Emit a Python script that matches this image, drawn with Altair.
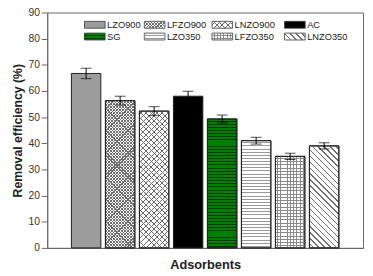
import math
import altair as alt
import pandas as pd

# ---------------- data ----------------
names = ["LZO900", "LFZO900", "LNZO900", "AC", "SG", "LZO350", "LFZO350", "LNZO350"]
values = [66.7, 56.3, 52.3, 58.0, 49.3, 41.0, 35.0, 39.0]
errors = [2.0, 1.7, 1.7, 1.9, 1.5, 1.3, 1.2, 1.2]
y_ticks = [0, 10, 20, 30, 40, 50, 60, 70, 80, 90]

df = pd.DataFrame({
    "name": names,
    "pos": list(range(1, len(names) + 1)),
    "value": values,
    "lo": [v - e for v, e in zip(values, errors)],
    "hi": [v + e for v, e in zip(values, errors)],
})

# ---------------- style ----------------
FONT = "Liberation Sans"
PW, PH = 322, 240          # plot area
YMAX = 90
BAR_W = 30
SW_W, SW_H = 21, 7          # legend swatch
TRANSP = "rgba(255,255,255,0)"

# pattern spec: (base fill, [(direction, period px, line px, color), ...])
patterns = {
    "LZO900": ("#9c9c9c", []),
    "LFZO900": ("#ffffff", [("d1", 3.2, 1.2, "#6e6e6e"), ("d2", 3.2, 1.2, "#6e6e6e")]),
    "LNZO900": ("#ffffff", [("d1", 5.5, 1.0, "#6a6a6a"), ("d2", 5.5, 1.0, "#6a6a6a")]),
    "AC": ("#000000", []),
    "SG": ("#008000", [("h", 3.2, 1.0, "#053805")]),
    "LZO350": ("#ffffff", [("h", 3.2, 1.0, "#9a9a9a")]),
    "LFZO350": ("#ffffff", [("h", 3.3, 1.0, "#8a8a8a"), ("v", 3.3, 1.0, "#8a8a8a")]),
    "LNZO350": ("#ffffff", [("d2", 6.0, 1.4, "#6f6f6f")]),
}


def stripe_gradient(direction, W, H, period, lw, color):
    if direction == "h":
        coords = dict(x1=0, y1=0, x2=0, y2=1)
        span, scale = H, 1.0 / H
    elif direction == "v":
        coords = dict(x1=0, y1=0, x2=1, y2=0)
        span, scale = W, 1.0 / W
    elif direction == "d1":
        coords = dict(x1=0, y1=0, x2=1, y2=H / W)
        span, scale = W + H, W / (W * W + H * H)
    else:  # d2
        coords = dict(x1=1, y1=0, x2=0, y2=H / W)
        span, scale = W + H, W / (W * W + H * H)
    stops = []
    n = int(math.ceil(span / period)) + 1
    for k in range(n):
        s = (k * period + period / 2) * scale
        e = s + lw * scale
        if s >= 1:
            break
        e = min(e, 1.0)
        stops += [
            {"offset": s, "color": TRANSP},
            {"offset": s, "color": color},
            {"offset": e, "color": color},
            {"offset": e, "color": TRANSP},
        ]
    if not stops:
        stops = [{"offset": 0, "color": TRANSP}, {"offset": 1, "color": TRANSP}]
    if stops[0]["offset"] > 0:
        stops.insert(0, {"offset": 0, "color": TRANSP})
    if stops[-1]["offset"] < 1:
        stops.append({"offset": 1, "color": TRANSP})
    g = {"gradient": "linear", "stops": stops}
    g.update(coords)
    return g


x_scale = alt.Scale(domain=[0, len(names) + 1], nice=False, zero=False)
y_scale = alt.Scale(domain=[0, YMAX], nice=False)
x_axis = alt.Axis(title="Adsorbents", labels=False, ticks=False, grid=False,
                  domainColor="#666666", titleFont=FONT, titleFontSize=13,
                  titleFontWeight="bold", titleColor="#222222", titlePadding=11)
y_axis = alt.Axis(title="Removal efficiency (%)", values=y_ticks, grid=False,
                  tickSize=6, tickColor="#666666", domainColor="#666666",
                  labelFont=FONT, labelFontSize=10.5, labelColor="#333333",
                  labelPadding=2, labelOverlap=False, titleFont=FONT, titleFontSize=12.5,
                  titleFontWeight="bold", titleColor="#222222", titlePadding=4)


def X():
    return alt.X("pos:Q", scale=x_scale, axis=x_axis)


def Y(field):
    return alt.Y(field + ":Q", scale=y_scale, axis=y_axis)


base = alt.Chart(df)
layers = []

for i, n in enumerate(names):
    fill, strs = patterns[n]
    H = values[i] / YMAX * PH
    sub = base.transform_filter(alt.datum.name == n)
    layers.append(sub.mark_bar(size=BAR_W, fill=fill, stroke="#222222", strokeWidth=1)
                  .encode(x=X(), y=Y("value")))
    for (d, p, lw, c) in strs:
        g = stripe_gradient(d, BAR_W, H, p, lw, c)
        layers.append(sub.mark_bar(size=BAR_W, fill=g, strokeWidth=0)
                      .encode(x=X(), y=Y("value")))
    if strs:
        layers.append(sub.mark_bar(size=BAR_W, fillOpacity=0, stroke="#222222", strokeWidth=1)
                      .encode(x=X(), y=Y("value")))

# error bars
layers.append(base.mark_rule(color="black", strokeWidth=1)
              .encode(x=X(), y=Y("lo"), y2="hi:Q"))
layers.append(base.mark_tick(color="black", orient="horizontal", size=11, thickness=1)
              .encode(x=X(), y=Y("lo")))
layers.append(base.mark_tick(color="black", orient="horizontal", size=11, thickness=1)
              .encode(x=X(), y=Y("hi")))

# legend (pixel layout inside plot area)
leg_cols = [38, 99, 168, 242]
leg_rows = [9, 21]
for i, n in enumerate(names):
    col, row = i % 4, i // 4
    x0, y0 = leg_cols[col], leg_rows[row]
    fill, strs = patterns[n]
    one = alt.Chart(alt.Data(values=[{"name": n}]))
    layers.append(one.mark_rect(fill=fill, stroke="#333333", strokeWidth=0.8).encode(
        x=alt.value(x0), x2=alt.value(x0 + SW_W), y=alt.value(y0), y2=alt.value(y0 + SW_H)))
    for (d, p, lw, c) in strs:
        g = stripe_gradient(d, SW_W, SW_H, p, lw, c)
        layers.append(one.mark_rect(fill=g, strokeWidth=0).encode(
            x=alt.value(x0), x2=alt.value(x0 + SW_W), y=alt.value(y0), y2=alt.value(y0 + SW_H)))
    layers.append(one.mark_text(align="left", baseline="middle", font=FONT, fontSize=9.5,
                                color="#222222").encode(
        x=alt.value(x0 + SW_W + 2), y=alt.value(y0 + SW_H / 2 + 0.5), text="name:N"))

chart = alt.layer(*layers).properties(
    width=PW, height=PH,
    autosize=alt.AutoSizeParams(type="none"),
    padding={"left": 40, "top": 2, "right": 2, "bottom": 24},
).configure_view(stroke="#666666", strokeWidth=1)

chart.save("out.html", embed_options={"renderer": "svg", "actions": False})
